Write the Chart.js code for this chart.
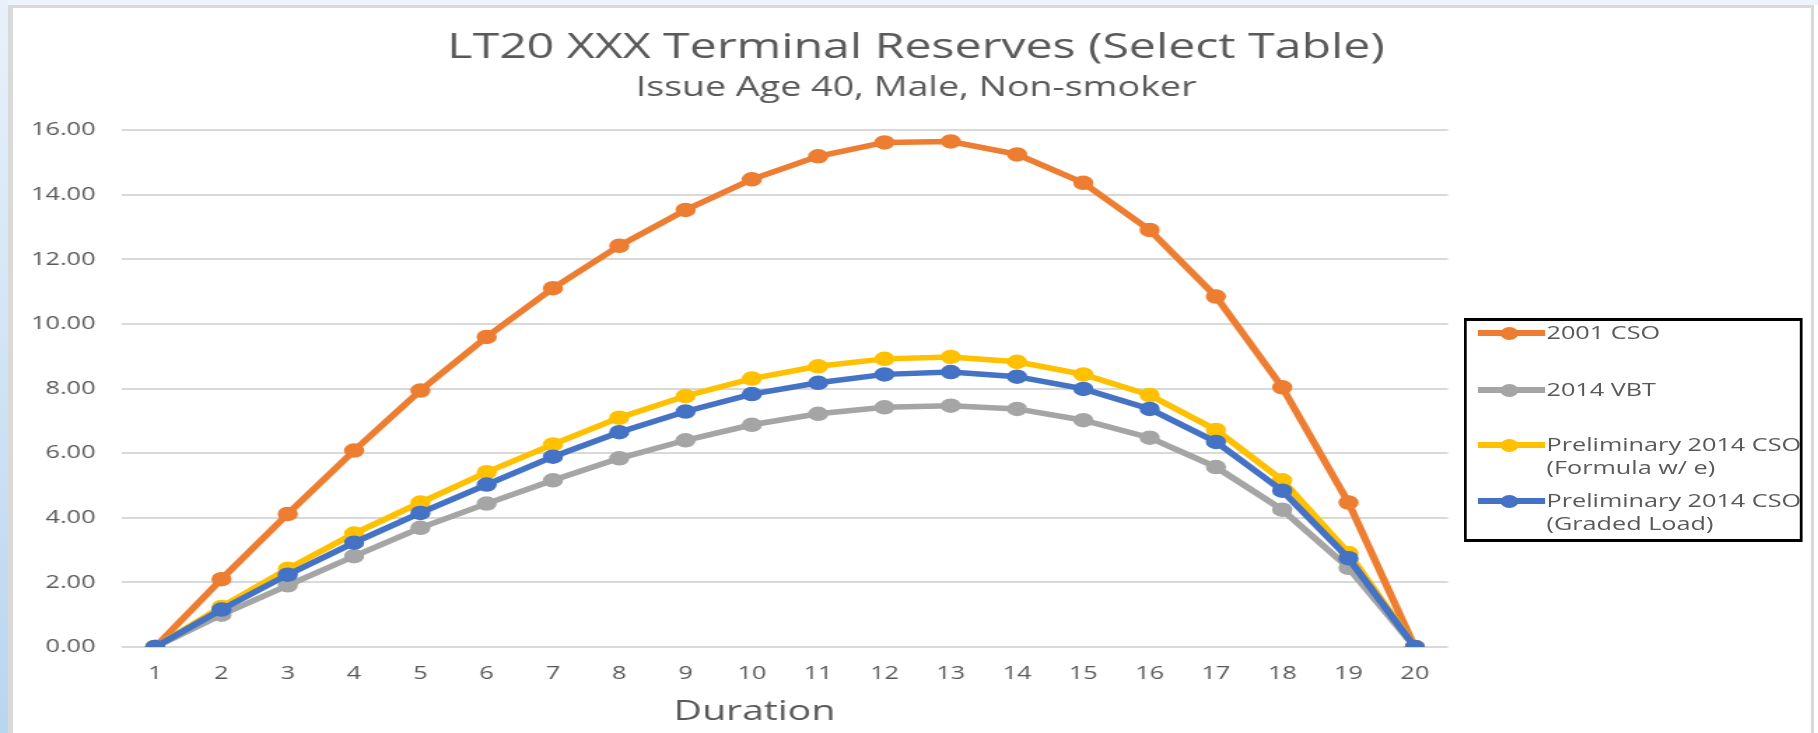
<!DOCTYPE html>
<html>
<head>
<meta charset="utf-8">
<script src="https://cdn.jsdelivr.net/npm/chart.js@4.4.0/dist/chart.umd.min.js"></script>
<style>
html,body{margin:0;padding:0;width:1818px;height:733px;overflow:hidden;background:#fff;}
#topstrip{position:absolute;left:0;top:0;width:1818px;height:5px;background:#edf4fb;}
#leftstrip{position:absolute;left:0;top:0;width:8px;height:733px;background:linear-gradient(#e8f1fa,#b8d5f0);}
#panel{position:absolute;left:8px;top:5px;width:1806px;height:728px;box-sizing:border-box;border-left:5px solid #d9d9d9;border-top:3px solid #d9d9d9;border-right:3px solid #d9d9d9;background:#fff;}
#wrap{position:absolute;left:0;top:0;width:1299px;height:733px;transform:scaleX(1.39954);transform-origin:0 0;}
#chart{position:absolute;left:0;top:0;}
#legend{position:absolute;left:1046px;top:318px;width:242px;height:224px;box-sizing:border-box;border-top:3px solid #000;border-bottom:3px solid #000;border-left:2.2px solid #000;border-right:2.2px solid #000;}
.lg-line{position:absolute;height:5.5px;}
.lg-dot{position:absolute;width:13px;height:13px;border-radius:50%;}
.lg-text{position:absolute;font-family:"Open Sans",sans-serif;font-size:17.5px;line-height:23.5px;color:#595959;white-space:pre;transform:scaleX(1.03);transform-origin:0 0;}
</style>
</head>
<body>
<div id="topstrip"></div>
<div id="leftstrip"></div>
<div id="panel"></div>
<div id="wrap">
  <canvas id="chart" width="1299" height="733"></canvas>
  <div id="legend"></div>
</div>
<script>
// ---- data ----
const durations = ['1','2','3','4','5','6','7','8','9','10','11','12','13','14','15','16','17','18','19','20'];
const cso2001 = [0, 2.10, 4.12, 6.08, 7.94, 9.60, 11.11, 12.42, 13.53, 14.48, 15.19, 15.62, 15.65, 15.25, 14.37, 12.91, 10.85, 8.04, 4.47, 0];
const vbt2014 = [0, 1.00, 1.91, 2.81, 3.69, 4.44, 5.16, 5.84, 6.40, 6.88, 7.22, 7.42, 7.47, 7.37, 7.02, 6.48, 5.57, 4.25, 2.45, 0];
const prelimFormula = [0, 1.24, 2.42, 3.51, 4.47, 5.41, 6.27, 7.10, 7.77, 8.31, 8.69, 8.92, 8.98, 8.83, 8.44, 7.80, 6.72, 5.16, 2.91, 0];
const prelimGraded = [0, 1.16, 2.24, 3.23, 4.15, 5.03, 5.89, 6.65, 7.29, 7.83, 8.18, 8.44, 8.51, 8.37, 7.99, 7.37, 6.35, 4.84, 2.75, 0];
const seriesNames = ['2001 CSO', '2014 VBT', 'Preliminary 2014 CSO (Formula w/ e)', 'Preliminary 2014 CSO (Graded Load)'];
const seriesColors = ['#ED7D31', '#A5A5A5', '#FFC000', '#4472C4'];
const titleText = 'LT20 XXX Terminal Reserves (Select Table)';
const subtitleText = 'Issue Age 40, Male, Non-smoker';
const xTitle = 'Duration';
const yMin = 0, yMax = 16, yStep = 2;

const seriesData = [cso2001, vbt2014, prelimFormula, prelimGraded];
const TXT = '#595959';
const FONT = 'Open Sans';

const datasets = seriesData.map((d, i) => ({
  label: seriesNames[i],
  data: d,
  borderColor: seriesColors[i],
  backgroundColor: seriesColors[i],
  pointBackgroundColor: seriesColors[i],
  pointBorderColor: seriesColors[i],
  borderWidth: 5.5,
  pointRadius: 6.5,
  pointBorderWidth: 1.5,
  tension: 0,
  order: 3 - i
}));

const axisTitlePlugin = {
  id: 'axisTitle',
  afterDraw(chart) {
    const a = chart.chartArea, ctx = chart.ctx;
    ctx.save();
    ctx.font = '400 28px "' + FONT + '"';
    ctx.fillStyle = TXT;
    ctx.textAlign = 'center';
    ctx.textBaseline = 'alphabetic';
    ctx.fillText(xTitle, a.left + (a.right - a.left) * 0.477, a.bottom + 73);
    ctx.restore();
  }
};

new Chart(document.getElementById('chart'), {
  type: 'line',
  data: { labels: durations, datasets },
  options: {
    responsive: false,
    animation: false,
    layout: { padding: { left: 10, right: 0, top: 0, bottom: 0 } },
    plugins: {
      legend: { display: false },
      tooltip: { enabled: false },
      title: {
        display: true, text: titleText, color: TXT,
        font: { family: FONT, size: 34.5, weight: 400, lineHeight: 1.2 },
        padding: { top: 27.7, bottom: 3.6 }
      },
      subtitle: {
        display: true, text: subtitleText, color: TXT,
        font: { family: FONT, size: 26.9, weight: 400, lineHeight: 1.2 },
        padding: { top: 0, bottom: 25.2 }
      }
    },
    scales: {
      x: {
        offset: true,
        grid: { display: false },
        border: { display: false },
        ticks: { color: TXT, font: { family: FONT, size: 18 }, padding: 8, maxRotation: 0, autoSkip: false },
        afterFit(s) { s.height = 86; }
      },
      y: {
        min: yMin, max: yMax,
        grid: { color: '#d9d9d9', lineWidth: 2, drawTicks: false },
        border: { display: false },
        ticks: { stepSize: yStep, color: TXT, font: { family: FONT, size: 18 }, padding: 19,
                 callback: v => Number(v).toFixed(2) },
        afterFit(s) { s.width = 77.2; }
      },
      spacer: {
        position: 'right', display: true,
        grid: { display: false }, border: { display: false },
        ticks: { display: false },
        afterFit(s) { s.width = 264.4; }
      }
    }
  },
  plugins: [axisTitlePlugin]
});

// ---- HTML legend ----
const legend = document.getElementById('legend');
const rowY = [333, 390, 445, 501];
const boxLeft = 1046, boxTop = 318;
seriesNames.forEach((name, i) => {
  const cy = rowY[i] - boxTop;
  const line = document.createElement('div');
  line.className = 'lg-line';
  line.style.left = (1053.9 - boxLeft) + 'px';
  line.style.width = (1102.5 - 1053.9) + 'px';
  line.style.top = (cy - 2.75 - 3) + 'px';
  line.style.background = seriesColors[i];
  legend.appendChild(line);
  const dot = document.createElement('div');
  dot.className = 'lg-dot';
  dot.style.left = (1076.8 - boxLeft - 6.5) + 'px';
  dot.style.top = (cy - 6.5 - 3) + 'px';
  dot.style.background = seriesColors[i];
  legend.appendChild(dot);
  const t = document.createElement('div');
  t.className = 'lg-text';
  t.style.left = (1105.4 - boxLeft - 2) + 'px';
  t.style.top = (cy - 12.5 - 3) + 'px';
  t.textContent = name.replace(' (', '\n(');
  legend.appendChild(t);
});
</script>
</body>
</html>
